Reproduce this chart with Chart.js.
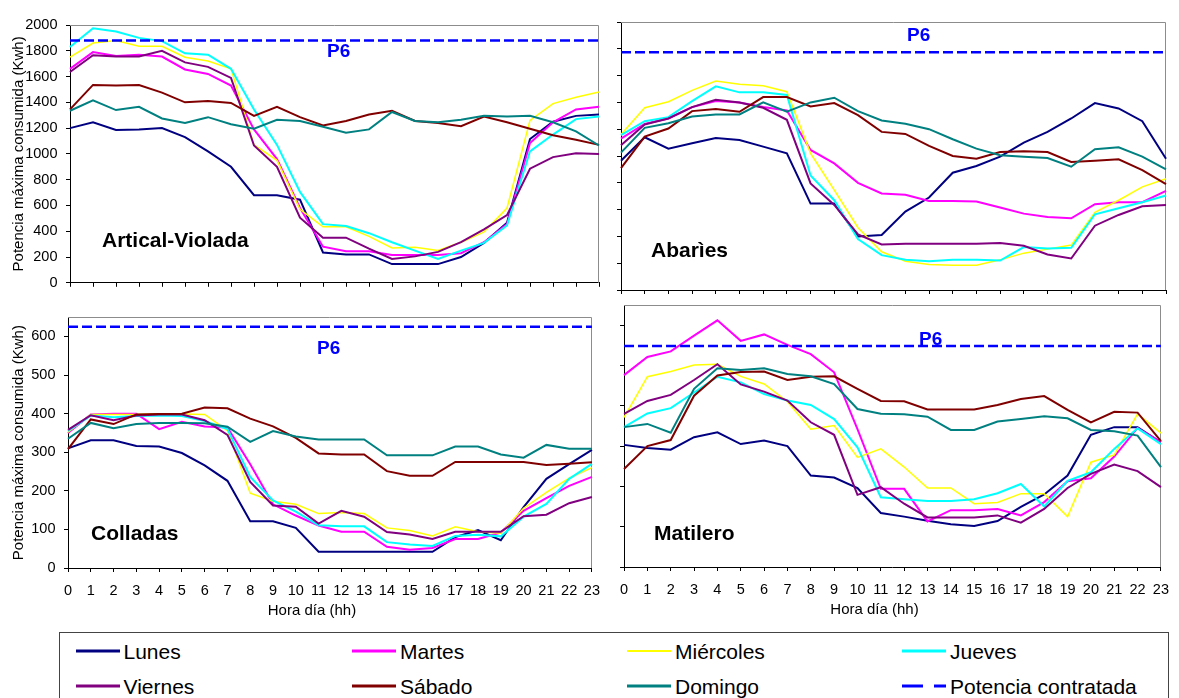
<!DOCTYPE html>
<html>
<head>
<meta charset="utf-8">
<script src="https://cdn.jsdelivr.net/npm/chart.js@4.4.0/dist/chart.umd.min.js"></script>
<style>
  html, body { margin: 0; padding: 0; background: #fff; }
  body { width: 1179px; height: 698px; position: relative; overflow: hidden; font-family: 'Liberation Sans', Arial, sans-serif; }
  canvas { position: absolute; }
  #legend { position: absolute; left: 59px; top: 632px; width: 1110px; height: 90px; border: 1px solid #444; box-sizing: border-box; }
  .item { position: absolute; font-size: 21px; line-height: 24px; height: 24px; white-space: nowrap; color: #000; }
  .sample { position: absolute; }
</style>
</head>
<body>
<canvas id="c1" width="610" height="300" style="left:0;top:0"></canvas>
<canvas id="c2" width="569" height="300" style="left:610px;top:0"></canvas>
<canvas id="c3" width="610" height="320" style="left:0;top:300px"></canvas>
<canvas id="c4" width="569" height="320" style="left:610px;top:300px"></canvas>
<div id="legend"></div>
<script>
const hours = ['0','1','2','3','4','5','6','7','8','9','10','11','12','13','14','15','16','17','18','19','20','21','22','23'];
const days = ['Lunes', 'Martes', 'Miércoles', 'Jueves', 'Viernes', 'Sábado', 'Domingo'];
const dayColors = ['#000080', '#FF00FF', '#FFFF00', '#00FFFF', '#800080', '#800000', '#008080'];
const contractLabel = 'Potencia contratada';
const contractColor = '#0000FF';

// Artical-Violada
const avLunes     = [1200,1245,1185,1190,1200,1130,1020,900,680,680,645,235,220,220,145,145,145,200,310,465,1115,1250,1295,1305];
const avMartes    = [1660,1790,1760,1770,1755,1655,1620,1530,1190,960,580,280,245,245,215,215,215,230,315,455,1085,1245,1345,1365];
const avMiercoles = [1750,1860,1880,1835,1835,1750,1720,1660,1070,950,570,435,435,360,270,275,250,315,395,580,1260,1390,1440,1480];
const avJueves    = [1830,1975,1950,1900,1875,1780,1770,1660,1345,1070,705,455,440,385,315,250,185,250,310,445,1020,1150,1270,1290];
const avViernes   = [1635,1765,1755,1755,1800,1710,1675,1590,1065,900,505,350,350,265,185,205,240,315,415,525,885,975,1005,1000];
const avSabado    = [1345,1535,1530,1535,1475,1400,1410,1395,1295,1365,1285,1220,1255,1305,1335,1255,1240,1215,1290,1245,1195,1145,1110,1070];
const avDomingo   = [1335,1415,1340,1365,1275,1240,1285,1230,1195,1265,1255,1210,1165,1190,1325,1255,1245,1265,1295,1290,1295,1245,1175,1065];
const avP6 = 1880;

// Abarìes
const abLunes     = [965,1140,1055,1095,1135,1120,1070,1020,645,645,400,410,585,690,875,925,995,1100,1180,1280,1395,1355,1260,980];
const abMartes    = [1130,1240,1280,1365,1410,1400,1365,1340,1045,945,800,720,710,665,665,660,615,570,545,535,640,655,655,740];
const abMiercoles = [1160,1360,1405,1490,1560,1535,1525,1480,1020,745,465,285,215,190,185,185,225,275,305,335,580,670,770,830];
const abJueves    = [1155,1260,1290,1410,1520,1475,1475,1455,855,670,380,260,225,215,225,225,220,320,310,315,565,610,655,705];
const abViernes   = [1080,1235,1280,1365,1420,1400,1360,1270,795,635,415,340,345,345,345,345,350,330,265,235,480,560,625,635];
const abSabado    = [910,1145,1205,1335,1350,1330,1440,1440,1370,1395,1305,1180,1165,1075,1000,980,1030,1035,1030,955,965,975,895,790];
const abDomingo   = [1025,1210,1245,1295,1310,1310,1400,1330,1400,1435,1335,1265,1240,1200,1125,1055,1005,995,985,920,1050,1065,995,900];
const abP6 = 1775;

// Colladas
const coLunes     = [310,331,331,316,315,298,266,226,121,121,104,42,42,42,42,42,42,80,98,72,158,231,269,306];
const coMartes    = [350,398,400,400,360,379,367,364,269,165,136,110,94,94,55,47,52,75,75,92,148,181,213,236];
const coMiercoles = [352,398,398,398,400,399,398,356,194,173,165,141,144,141,104,97,83,107,94,90,155,196,233,260];
const coJueves    = [355,395,391,394,395,394,381,360,236,175,146,111,108,108,67,61,57,83,86,82,133,166,231,270];
const coViernes   = [358,396,383,395,398,398,383,345,223,162,159,115,148,133,93,87,75,94,94,94,134,138,168,184];
const coSabado    = [308,385,373,398,399,400,416,414,387,367,337,297,294,294,251,239,239,275,275,275,275,267,270,274];
const coDomingo   = [335,376,362,373,376,376,375,366,327,355,341,333,333,333,292,292,292,315,315,294,286,319,309,309];
const coP6 = 625;

// Matilero
const maLunes     = [303,295,291,322,334,305,314,300,227,222,196,134,125,115,106,102,114,149,180,227,328,347,347,309];
const maMartes    = [476,521,535,574,612,561,577,551,528,483,342,194,194,113,141,141,144,128,161,213,220,274,345,310];
const maMiercoles = [371,472,485,501,503,473,454,410,342,351,272,293,248,196,196,157,160,182,182,125,260,278,380,332];
const maJueves    = [347,381,394,433,472,458,429,413,402,367,297,173,168,164,164,168,183,206,150,214,235,293,344,305];
const maViernes   = [380,412,427,464,503,453,435,413,359,328,179,198,157,123,123,123,128,110,144,196,231,254,238,198];
const maSabado    = [243,300,315,425,475,484,485,464,472,473,442,412,411,391,391,391,402,417,424,390,359,385,383,312];
const maDomingo   = [347,355,333,442,493,489,493,479,473,454,392,380,379,373,340,340,361,367,374,369,340,337,326,248];
const maP6 = 548;

const FONT = "'Liberation Sans', Arial, sans-serif";
Chart.defaults.font.family = FONT;
Chart.defaults.color = '#000';

// gray frame on top/right, panel name, P6 tag and x title
const panelDecor = {
    id: 'panelDecor',
    beforeDatasetsDraw(chart) {
        const { ctx, chartArea: a } = chart;
        ctx.save();
        ctx.strokeStyle = '#8c8c8c';
        ctx.lineWidth = 1;
        ctx.beginPath();
        ctx.moveTo(a.left, Math.round(a.top) + 0.5);
        ctx.lineTo(Math.round(a.right) - 0.5, Math.round(a.top) + 0.5);
        ctx.lineTo(Math.round(a.right) - 0.5, a.bottom);
        ctx.stroke();
        ctx.restore();
    },
    afterDraw(chart, args, opts) {
        const { ctx, chartArea: a, scales } = chart;
        ctx.save();
        ctx.textBaseline = 'alphabetic';
        ctx.textAlign = 'left';
        ctx.fillStyle = '#000';
        ctx.font = `bold 21px ${FONT}`;
        ctx.fillText(opts.name, a.left + opts.nameX, a.bottom - opts.nameUp);
        ctx.fillStyle = contractColor;
        ctx.font = `bold 19px ${FONT}`;
        ctx.fillText('P6', a.left + opts.p6X, scales.y.getPixelForValue(opts.p6) + opts.p6Dy);
        if (opts.xTitle) {
            ctx.fillStyle = '#000';
            ctx.font = `15px ${FONT}`;
            ctx.textAlign = 'center';
            ctx.fillText(opts.xTitle, (a.left + a.right) / 2 - 18, a.bottom + 46.5);
        }
        ctx.restore();
    },
};

function buildDatasets(series, p6) {
    const sets = series.map((data, i) => ({
        label: days[i],
        data,
        borderColor: dayColors[i],
        borderWidth: i === 2 ? 1.5 : 2,
        order: -i,
    }));
    sets.push({
        label: contractLabel,
        data: hours.map(() => p6),
        borderColor: contractColor,
        borderWidth: 2.5,
        borderDash: [10, 4],
        order: -10,
    });
    return sets;
}

function renderPanel({ canvas, series, p6, max, step, showY, showX, width, height, padding, decor }) {
    return new Chart(document.getElementById(canvas), {
        type: 'line',
        data: { labels: hours, datasets: buildDatasets(series, p6) },
        plugins: [panelDecor],
        options: {
            responsive: false,
            animation: false,
            devicePixelRatio: 1,
            events: [],
            layout: { padding },
            elements: {
                point: { radius: 0 },
                line: { tension: 0, fill: false, borderCapStyle: 'butt' },
            },
            plugins: {
                legend: { display: false },
                tooltip: { enabled: false },
                panelDecor: decor,
            },
            scales: {
                x: {
                    offset: false,
                    grid: { drawOnChartArea: false, drawTicks: true, tickLength: 4, color: '#000', offset: false },
                    border: { color: '#000', width: 1 },
                    ticks: { display: showX, autoSkip: false, maxRotation: 0, padding: 10, font: { size: 14.5 } },
                    afterFit: (s) => { s.height = height; },
                },
                y: {
                    min: 0,
                    max,
                    grid: { drawOnChartArea: false, drawTicks: true, tickLength: 4, color: '#000' },
                    border: { color: '#000', width: 1 },
                    ticks: {
                        display: showY,
                        stepSize: step,
                        autoSkip: false,
                        includeBounds: false,
                        padding: 8.5,
                        font: { size: 14.5 },
                        callback: (v) => String(v),
                    },
                    title: {
                        display: showY,
                        text: 'Potencia máxima consumida (Kwh)',
                        font: { size: 15 },
                        padding: { top: 9.5, bottom: 0 },
                    },
                    afterFit: (s) => { s.width = width; },
                },
            },
        },
    });
}

renderPanel({
    canvas: 'c1',
    series: [avLunes, avMartes, avMiercoles, avJueves, avViernes, avSabado, avDomingo],
    p6: avP6, max: 2000, step: 200, showY: true, showX: false,
    width: 70, height: 10,
    padding: { left: 0, top: 25, right: 11, bottom: 0 },
    decor: { name: 'Artical-Violada', nameX: 32, nameUp: 36, p6: avP6, p6X: 257, p6Dy: 16.6 },
});

renderPanel({
    canvas: 'c2',
    series: [abLunes, abMartes, abMiercoles, abJueves, abViernes, abSabado, abDomingo],
    p6: abP6, max: 2000, step: 200, showY: false, showX: false,
    width: 11, height: 10,
    padding: { left: 0, top: 22, right: 13, bottom: 0 },
    decor: { name: 'Abarìes', nameX: 30, nameUp: 33, p6: abP6, p6X: 286, p6Dy: -11 },
});

renderPanel({
    canvas: 'c3',
    series: [coLunes, coMartes, coMiercoles, coJueves, coViernes, coSabado, coDomingo],
    p6: coP6, max: 650, step: 100, showY: true, showX: true,
    width: 68, height: 52,
    padding: { left: 0, top: 8, right: 8, bottom: 0 },
    decor: { name: 'Colladas', nameX: 23, nameUp: 28, p6: coP6, p6X: 249, p6Dy: 27.3, xTitle: 'Hora día (hh)' },
});

renderPanel({
    canvas: 'c4',
    series: [maLunes, maMartes, maMiercoles, maJueves, maViernes, maSabado, maDomingo],
    p6: maP6, max: 650, step: 100, showY: false, showX: true,
    width: 11, height: 53,
    padding: { left: 0, top: 5, right: 10, bottom: 0 },
    decor: { name: 'Matilero', nameX: 30, nameUp: 27, p6: maP6, p6X: 295, p6Dy: -0.7, xTitle: 'Hora día (hh)' },
});

// legend box under the panels
(function buildLegend() {
    const box = document.getElementById('legend');
    const colX = [63.5, 340, 615, 890];   // text left, relative to box padding edge
    const rowTop = [7, 41.7];
    const lineY = [17.7, 53];
    const entries = days.map((d, i) => ({ label: d, color: dayColors[i], dash: null, w: i === 2 ? 2 : 3 }));
    const contract = { label: contractLabel, color: contractColor, dash: '21 11', w: 3 };
    const order = [entries[0], entries[1], entries[2], entries[3], entries[4], entries[5], entries[6], contract];
    order.forEach((e, k) => {
        const r = Math.floor(k / 4), c = k % 4;
        const svg = document.createElementNS('http://www.w3.org/2000/svg', 'svg');
        svg.setAttribute('width', '44');
        svg.setAttribute('height', '6');
        svg.setAttribute('class', 'sample');
        svg.style.left = (colX[c] - 48) + 'px';
        svg.style.top = (lineY[r] - 3) + 'px';
        const ln = document.createElementNS('http://www.w3.org/2000/svg', 'line');
        ln.setAttribute('x1', '0'); ln.setAttribute('x2', '44');
        ln.setAttribute('y1', '3'); ln.setAttribute('y2', '3');
        ln.setAttribute('stroke', e.color);
        ln.setAttribute('stroke-width', e.w);
        if (e.dash) ln.setAttribute('stroke-dasharray', e.dash);
        svg.appendChild(ln);
        box.appendChild(svg);
        const t = document.createElement('div');
        t.className = 'item';
        t.style.left = colX[c] + 'px';
        t.style.top = rowTop[r] + 'px';
        t.textContent = e.label;
        box.appendChild(t);
    });
})();
</script>
</body>
</html>
